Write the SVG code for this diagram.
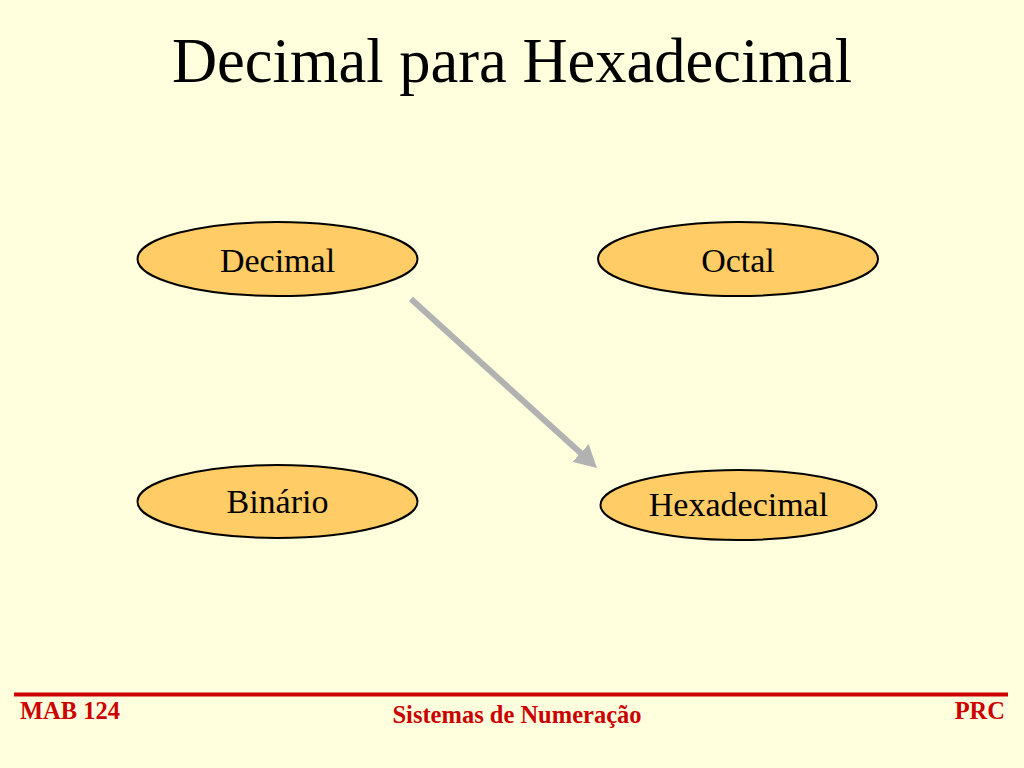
<svg xmlns="http://www.w3.org/2000/svg" width="1024" height="768" viewBox="0 0 1024 768">
<defs>
<style>
.node ellipse{fill:#ffcc66;stroke:#000;stroke-width:2}
.node text{font-family:"Liberation Serif",serif;font-size:34px;fill:#000;text-anchor:middle}
.foot{font-family:"Liberation Serif",serif;font-weight:bold;font-size:24.5px;fill:#cc0000}
</style>
<marker id="ah" markerWidth="4" markerHeight="4" refX="1" refY="2" orient="auto" markerUnits="strokeWidth">
<path d="M0,0 L3.7,2 L0,4 Z" fill="#b2b2b2"/>
</marker>
</defs>
<rect width="1024" height="768" fill="#ffffdd"/>
<text x="512" y="82" font-family="Liberation Serif,serif" font-size="62.5" text-anchor="middle" fill="#000">Decimal para Hexadecimal</text>
<g id="connectors">
<line x1="411" y1="299" x2="585" y2="457" stroke="#b2b2b2" stroke-width="6" marker-end="url(#ah)"/>
</g>
<g id="decimal" class="node"><ellipse cx="277.5" cy="259" rx="140" ry="37"/><text x="277.5" y="272">Decimal</text></g>
<g id="octal" class="node"><ellipse cx="738" cy="259" rx="140" ry="37"/><text x="738" y="272">Octal</text></g>
<g id="binario" class="node"><ellipse cx="277.5" cy="501.5" rx="140" ry="36.5"/><text x="277.5" y="513">Binário</text></g>
<g id="hexadecimal" class="node"><ellipse cx="738.5" cy="505" rx="138" ry="35"/><text x="738.5" y="516">Hexadecimal</text></g>
<line x1="14" y1="694.5" x2="1008" y2="694.5" stroke="#cc0000" stroke-width="4"/>
<text class="foot" x="20" y="719">MAB 124</text>
<text class="foot" x="517" y="723" text-anchor="middle">Sistemas de Numeração</text>
<text class="foot" x="1005" y="719" text-anchor="end">PRC</text>
</svg>
